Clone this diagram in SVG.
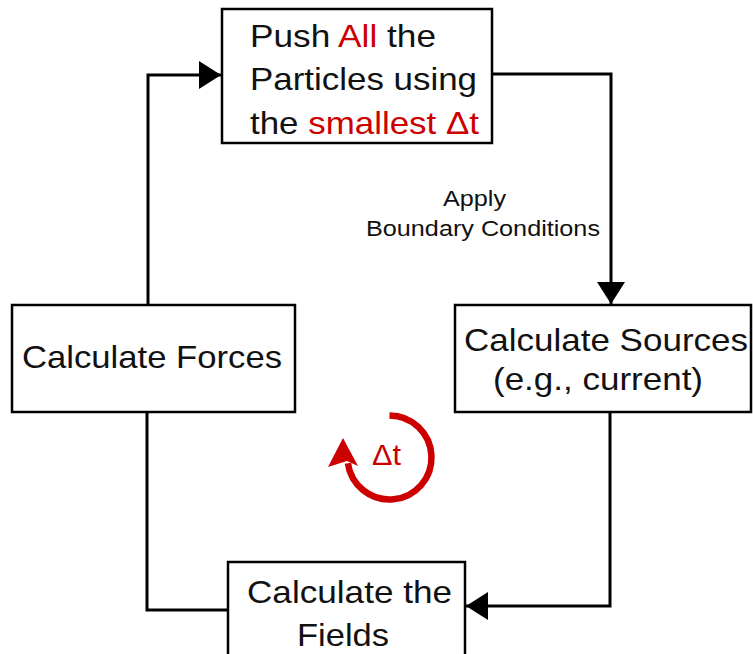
<svg xmlns="http://www.w3.org/2000/svg" width="753" height="654" viewBox="0 0 753 654">
<style>
.box{fill:#fff;stroke:#000;stroke-width:2.5}
.t{font-family:"Liberation Sans",Arial,sans-serif;font-size:32px;fill:#111}
.s{font-family:"Liberation Sans",Arial,sans-serif;font-size:22px;fill:#111}
.red{fill:#cc0000}
.conn{fill:none;stroke:#000;stroke-width:3}
</style>
<defs>
<marker id="arr" markerUnits="userSpaceOnUse" markerWidth="24" markerHeight="30" refX="22" refY="14" orient="auto">
<path d="M0,0 L22,14 L0,28 Z" fill="#000"/>
</marker>
</defs>
<rect width="753" height="654" fill="#fff"/>
<g id="connectors">
<path class="conn" d="M148,305 V75 H221" marker-end="url(#arr)"/>
<path class="conn" d="M492,74 H611 V304" marker-end="url(#arr)"/>
<path class="conn" d="M610,412 V606 H466" marker-end="url(#arr)"/>
<path class="conn" d="M228,610 H147 V412"/>
<text class="s" x="443" y="206" textLength="63" lengthAdjust="spacingAndGlyphs">Apply</text>
<text class="s" x="366" y="236" textLength="234" lengthAdjust="spacingAndGlyphs">Boundary Conditions</text>
</g>
<g id="push">
<rect class="box" x="222" y="9" width="270" height="134"/>
<text class="t" x="250" y="47" textLength="186" lengthAdjust="spacingAndGlyphs">Push <tspan class="red">All</tspan> the</text>
<text class="t" x="250" y="90" textLength="227" lengthAdjust="spacingAndGlyphs">Particles using</text>
<text class="t" x="250" y="134" textLength="229" lengthAdjust="spacingAndGlyphs">the <tspan class="red">smallest Δt</tspan></text>
</g>
<g id="forces">
<rect class="box" x="12" y="305" width="283" height="107"/>
<text class="t" x="22" y="368" textLength="260" lengthAdjust="spacingAndGlyphs">Calculate Forces</text>
</g>
<g id="sources">
<rect class="box" x="455" y="305" width="296" height="107"/>
<text class="t" x="464" y="351" textLength="284" lengthAdjust="spacingAndGlyphs">Calculate Sources</text>
<text class="t" x="493" y="390" textLength="210" lengthAdjust="spacingAndGlyphs">(e.g., current)</text>
</g>
<g id="fields">
<rect class="box" x="228" y="562" width="237" height="100"/>
<text class="t" x="247" y="603" textLength="205" lengthAdjust="spacingAndGlyphs">Calculate the</text>
<text class="t" x="297" y="646" textLength="92" lengthAdjust="spacingAndGlyphs">Fields</text>
</g>
<g id="cycle">
<path d="M389.5,415.5 A42,42 0 1 1 347.9,463.3" fill="none" stroke="#cc0000" stroke-width="6.5"/>
<path d="M343,438 L358,466 L347,461 L328,467 Z" fill="#cc0000"/>
<text class="t red" x="372" y="465" font-size="30" textLength="29" lengthAdjust="spacingAndGlyphs" style="font-size:30px">Δt</text>
</g>
</svg>
